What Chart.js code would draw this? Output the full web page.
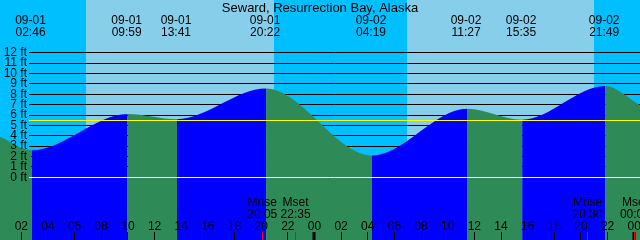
<!DOCTYPE html>
<html>
<head>
<meta charset="utf-8">
<title>Seward, Resurrection Bay, Alaska</title>
<script src="https://cdn.jsdelivr.net/npm/chart.js@4/dist/chart.umd.min.js"></script>
<style>
  html, body { margin: 0; padding: 0; background: #fff; }
  #wrap { width: 640px; height: 240px; }
</style>
</head>
<body>
<div id="wrap"><canvas id="tide" width="640" height="240"></canvas></div>
<script>
// all times are hours counted from 09-01 00:00
const stationName = 'Seward, Resurrection Bay, Alaska';

// high / low water events
const eventDates = ['09-01', '09-01', '09-01', '09-01', '09-02', '09-02', '09-02', '09-02'];
const eventTimes = ['02:46', '09:59', '13:41', '20:22', '04:19', '11:27', '15:35', '21:49'];
const eventFeet  = [2.6, 6.1, 5.6, 8.55, 2.1, 6.6, 5.55, 8.8];

// water level where the curve meets the left and right edges
const edgeHours = [0.40, 48.43];
const edgeFeet  = [3.9, 6.95];

// daylight
const sunriseHours = [6.86, 30.94];
const sunsetHours  = [20.97, 44.98];

// moon rise / set
const moonHours = [20.08, 22.58, 44.5, 48.05];
const moonNames = ['Mrise', 'Mset', 'Mrise', 'Mset'];
const moonTimes = ['20:05', '22:35', '20:30', '00:03'];

// bottom time axis
const hourTicks  = [2, 4, 6, 8, 10, 12, 14, 16, 18, 20, 22, 24, 26, 28, 30, 32, 34, 36, 38, 40, 42, 44, 46, 48];
const hourLabels = ['02', '04', '06', '08', '10', '12', '14', '16', '18', '20', '22', '00',
                    '02', '04', '06', '08', '10', '12', '14', '16', '18', '20', '22', '00'];

// height axis
const footLevels = [0, 1, 2, 3, 4, 5, 6, 7, 8, 9, 10, 11, 12];
const footLabels = ['0 ft', '1 ft', '2 ft', '3 ft', '4 ft', '5 ft', '6 ft', '7 ft', '8 ft', '9 ft', '10 ft', '11 ft', '12 ft'];
const meanLevel = 5.5;

const FONT = '12px "Liberation Sans", Arial, sans-serif';
const TITLE_FONT = '13px "Liberation Sans", Arial, sans-serif';
const NIGHT = '#00bfff', DAY = '#87ceeb';
const FALLING = '#2e8b57', RISING = '#0000ff';

function toHours(date, time) {
  const day = parseInt(date.split('-')[1], 10) - 1;
  const [h, m] = time.split(':').map(Number);
  return day * 24 + h + m / 60;
}
const eventHours = eventDates.map((d, i) => toHours(d, eventTimes[i]));

// the curve: left edge, every high/low, right edge
const points = [{x: edgeHours[0], y: edgeFeet[0]}]
  .concat(eventHours.map((h, i) => ({x: h, y: eventFeet[i]})))
  .concat([{x: edgeHours[1], y: edgeFeet[1]}]);

const crisp = v => Math.round(v - 0.5) + 0.5;

const tideDecor = {
  id: 'tideDecor',
  beforeDraw(chart) {
    const {ctx, chartArea: a, scales: {x, y}} = chart;
    ctx.save();
    // night / day bands
    ctx.fillStyle = NIGHT;
    ctx.fillRect(a.left, a.top, a.right - a.left, a.bottom - a.top);
    ctx.fillStyle = DAY;
    sunriseHours.forEach((h, i) => {
      const x0 = Math.round(x.getPixelForValue(h));
      const x1 = Math.round(x.getPixelForValue(sunsetHours[i]));
      ctx.fillRect(x0, a.top, x1 - x0, a.bottom - a.top);
    });
    // foot lines (hidden under the water)
    ctx.strokeStyle = '#000';
    ctx.lineWidth = 1;
    footLevels.forEach(f => {
      if (f === 0) return;
      const py = crisp(y.getPixelForValue(f));
      ctx.beginPath();
      ctx.moveTo(29, py);
      ctx.lineTo(a.right, py);
      ctx.stroke();
    });
    ctx.restore();
  },
  afterDatasetsDraw(chart) {
    const {ctx, chartArea: a, scales: {x, y}} = chart;
    ctx.save();
    ctx.lineWidth = 1;
    // datum and mean level lines
    ctx.strokeStyle = '#fff';
    let py = crisp(y.getPixelForValue(0));
    ctx.beginPath(); ctx.moveTo(29, py); ctx.lineTo(a.right, py); ctx.stroke();
    ctx.strokeStyle = '#ffff00';
    py = crisp(y.getPixelForValue(meanLevel));
    ctx.beginPath(); ctx.moveTo(29, py); ctx.lineTo(a.right, py); ctx.stroke();

    ctx.font = FONT;
    ctx.fillStyle = '#000';

    // height labels
    ctx.textAlign = 'right';
    ctx.textBaseline = 'middle';
    footLevels.forEach((f, i) => {
      ctx.fillText(footLabels[i], 27, y.getPixelForValue(f));
    });

    ctx.textBaseline = 'alphabetic';
    ctx.textAlign = 'center';
    // title
    ctx.font = TITLE_FONT;
    ctx.fillText(stationName, (a.left + a.right) / 2, 12);
    ctx.font = FONT;
    // high / low labels
    eventHours.forEach((h, i) => {
      const px = x.getPixelForValue(h) - 1;
      ctx.fillText(eventDates[i], px, 24);
      ctx.fillText(eventTimes[i], px, 36);
    });
    // moon labels
    moonHours.forEach((h, i) => {
      const px = x.getPixelForValue(h);
      ctx.fillText(moonNames[i], px, 206);
      ctx.fillText(moonTimes[i], px, 218);
    });
    // hour labels
    hourTicks.forEach((h, i) => {
      ctx.fillText(hourLabels[i], x.getPixelForValue(h), 230);
    });
    // hour ticks
    ctx.strokeStyle = '#000';
    hourTicks.forEach(h => {
      const px = x.getPixelForValue(h);
      const midnight = h % 24 === 0;
      ctx.lineWidth = midnight ? 3 : 1;
      ctx.beginPath();
      ctx.moveTo(midnight ? Math.round(px) : crisp(px), 232);
      ctx.lineTo(midnight ? Math.round(px) : crisp(px), a.bottom);
      ctx.stroke();
    });
    // moon ticks
    ctx.strokeStyle = '#ff0000';
    ctx.lineWidth = 1;
    moonHours.forEach(h => {
      const px = crisp(x.getPixelForValue(h));
      ctx.beginPath();
      ctx.moveTo(px, 232);
      ctx.lineTo(px, a.bottom);
      ctx.stroke();
    });
    ctx.restore();
  }
};

new Chart(document.getElementById('tide'), {
  type: 'line',
  data: {
    datasets: [{
      data: points,
      fill: 'start',
      borderWidth: 0,
      borderColor: 'rgba(0,0,0,0)',
      backgroundColor: RISING,
      pointRadius: 0,
      cubicInterpolationMode: 'monotone',
      segment: {
        backgroundColor: c => (c.p1.parsed.y < c.p0.parsed.y ? FALLING : RISING)
      }
    }]
  },
  options: {
    responsive: false,
    animation: false,
    devicePixelRatio: 1,
    layout: { padding: 0 },
    plugins: { legend: { display: false }, tooltip: { enabled: false } },
    events: [],
    scales: {
      x: { type: 'linear', display: false, min: edgeHours[0], max: edgeHours[1] },
      y: { type: 'linear', display: false, min: -6.04, max: 17.08 }
    }
  },
  plugins: [tideDecor]
});
</script>
</body>
</html>
